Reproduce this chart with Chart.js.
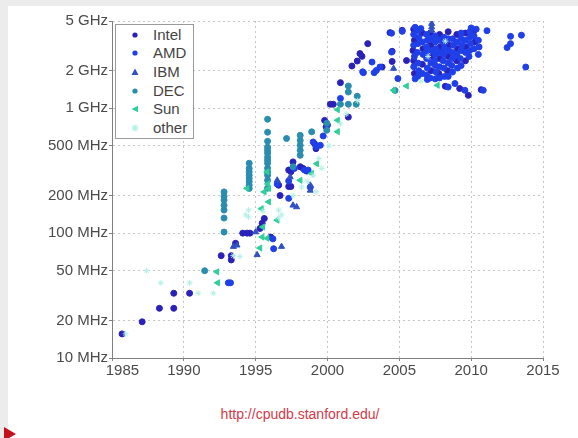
<!DOCTYPE html>
<html>
<head>
<meta charset="utf-8">
<script src="https://cdn.jsdelivr.net/npm/chart.js@4.4.0/dist/chart.umd.min.js"></script>
<style>
  html, body { margin: 0; padding: 0; }
  body { width: 578px; height: 438px; background: #ececec; position: relative; overflow: hidden;
         font-family: "Liberation Sans", Arial, sans-serif; }
  #panel { position: absolute; left: 8px; top: 6px; right: 0; bottom: 0; background: #fff; }
  #chart { position: absolute; left: 0; top: 0; }
  #legend { position: absolute; left: 115px; top: 24px; width: 77px; height: 113px;
            border: 1px solid #9a9a9a; background: #fff; }
  #legend .item { position: absolute; left: 0; height: 18px; line-height: 18px; font-size: 15px; color: #444; }
  #legend svg { position: absolute; left: 14px; top: 4px; }
  #legend span { position: absolute; left: 37px; white-space: nowrap; }
  #url { position: absolute; left: 0; top: 406px; width: 600px; text-align: center;
         font-size: 14px; color: #d23a48; }
  #arrow { position: absolute; left: 4px; top: 427px; width: 0; height: 0;
           border-top: 7px solid transparent; border-bottom: 7px solid transparent;
           border-left: 12px solid #c4121c; }
</style>
</head>
<body>
<div id="panel"></div>
<canvas id="chart" width="578" height="395"></canvas>
<div id="legend">
  <div class="item" style="top:1px"><svg width="10" height="10"><circle cx="5" cy="5" r="2.6" fill="#2a22b8"/></svg><span>Intel</span></div>
  <div class="item" style="top:19px"><svg width="10" height="10"><circle cx="5" cy="5" r="2.6" fill="#1f3fe8"/></svg><span>AMD</span></div>
  <div class="item" style="top:38px"><svg width="10" height="10"><polygon points="5,1.5 8.5,8 1.5,8" fill="#3050c4"/></svg><span>IBM</span></div>
  <div class="item" style="top:57px"><svg width="10" height="10"><circle cx="5" cy="5" r="2.6" fill="#2a8db0"/></svg><span>DEC</span></div>
  <div class="item" style="top:75px"><svg width="10" height="10"><polygon points="1.5,5 8,1.8 8,8.2" fill="#2fcf9c"/></svg><span>Sun</span></div>
  <div class="item" style="top:94px"><svg width="10" height="10"><path d="M5 1.5V8.5M1.5 5H8.5M2.5 2.5L7.5 7.5M7.5 2.5L2.5 7.5" stroke="#b4f0e6" stroke-width="1.2"/></svg><span>other</span></div>
</div>
<div id="url">http://cpudb.stanford.edu/</div>
<div id="arrow"></div>

<script>
// Dados: [ano, clock em MHz]
const xTicks = [1985, 1990, 1995, 2000, 2005, 2010, 2015];
const yTicks = [10, 20, 50, 100, 200, 500, 1000, 2000, 5000];
const yTickLabels = ['10 MHz', '20 MHz', '50 MHz', '100 MHz', '200 MHz', '500 MHz', '1 GHz', '2 GHz', '5 GHz'];

const intel = [
  [1985.7, 15.6], [1987.1, 19.5], [1988.3, 25], [1989.3, 25], [1989.3, 33], [1990.4, 33],
  [1992.6, 66], [1993.3, 66], [1993.3, 61], [1993.6, 83],
  [1994.1, 100], [1994.4, 100], [1994.6, 100],
  [1995.3, 109], [1995.45, 120], [1995.6, 131], [1996.05, 93],
  [1996.6, 242], [1996.7, 200], [1997.3, 236], [1997.45, 236], [1997.3, 320], [1997.45, 310], [1997.6, 372],
  [1998.1, 340], [1998.3, 330], [1998.55, 314],
  [1999.1, 520], [1999.2, 475], [1999.8, 800], [1999.9, 710],
  [2000.2, 1077], [2000.4, 1077], [2000.9, 1604], [2001.45, 850],
  [2001.7, 2180], [2002.07, 2390], [2002.26, 2740], [2002.4, 2606], [2002.8, 3294],
  [2003.8, 2140], [2004.35, 4035], [2004.5, 2858], [2004.5, 2370], [2005.2, 4207], [2005.5, 2410],
  [2006.0, 4300], [2006.05, 3500], [2005.95, 2900], [2006.0, 2400], [2006.05, 1900],
  [2006.6, 4000], [2006.65, 3000], [2006.6, 2250],
  [2007.15, 4000], [2007.2, 3200], [2007.25, 2600], [2007.2, 2000],
  [2007.8, 3900], [2007.85, 3100], [2007.8, 2500], [2007.75, 1900],
  [2008.4, 4100], [2008.45, 3200], [2008.4, 2600], [2008.35, 2000],
  [2009.0, 3900], [2009.05, 3000], [2009.0, 2400],
  [2009.6, 4000], [2009.65, 3100], [2009.6, 2400],
  [2010.2, 4200], [2010.25, 3400],
  [2008.2, 1500], [2009.2, 1439], [2009.8, 1270], [2010.7, 1410]
];

const amd = [
  [1993.1, 40], [1993.25, 40],
  [1996.2, 90], [1996.25, 75],
  [1996.5, 247], [1997.3, 190], [1997.3, 262], [1997.7, 330], [1998.4, 320], [1998.65, 320], [1998.8, 233],
  [1999.0, 537], [1999.2, 494], [1999.5, 505], [1999.7, 600], [2000.0, 733],
  [2000.9, 1200], [2002.45, 1960], [2002.5, 1928], [2003.1, 2345], [2003.25, 1928], [2003.4, 2010],
  [2003.65, 2140], [2004.9, 1729], [2004.46, 3990], [2004.46, 2820], [2005.2, 4130],
  [2006.1, 4450], [2006.5, 4350],
  [2006.3, 4200], [2006.35, 3700], [2006.3, 3300], [2006.25, 2800], [2006.3, 2300], [2006.35, 2000], [2006.3, 1800],
  [2006.0, 3900], [2006.0, 3200], [2006.05, 2600], [2006.0, 2150], [2006.1, 1720],
  [2006.6, 3400], [2006.65, 2700], [2006.6, 1900],
  [2006.9, 3900], [2006.95, 3500], [2006.9, 3100], [2006.85, 2800], [2006.9, 2500], [2006.95, 2100], [2006.9, 1850], [2006.95, 1700],
  [2007.2, 3600], [2007.25, 2900], [2007.2, 2300], [2007.15, 1750],
  [2007.5, 3800], [2007.5, 3400], [2007.55, 3000], [2007.5, 2700], [2007.45, 2400], [2007.5, 2200], [2007.55, 1950], [2007.5, 1720],
  [2007.8, 3500], [2007.85, 2800], [2007.8, 2150], [2007.8, 1750],
  [2008.1, 3700], [2008.1, 3300], [2008.15, 3000], [2008.1, 2700], [2008.05, 2400], [2008.1, 2100], [2008.15, 1800],
  [2008.4, 3600], [2008.45, 2900], [2008.4, 2300], [2008.4, 1800],
  [2008.7, 3600], [2008.75, 3200], [2008.7, 2800], [2008.7, 2500], [2008.65, 2200], [2008.7, 1950],
  [2009.0, 3400], [2009.0, 2700], [2009.05, 2100],
  [2009.3, 4000], [2009.3, 3600], [2009.35, 3200], [2009.3, 2900], [2009.25, 2500], [2009.3, 2200],
  [2009.6, 3500], [2009.6, 2800],
  [2009.9, 4100], [2009.9, 3700], [2009.95, 3300], [2009.9, 2900], [2009.85, 2600],
  [2010.0, 4400], [2010.35, 4300], [2010.2, 3800], [2010.2, 3000],
  [2010.5, 3500], [2010.55, 3100], [2010.5, 2700],
  [2008.4, 1480], [2008.87, 1578], [2009.56, 1393], [2010.84, 1393],
  [2011.1, 4180], [2012.74, 3767], [2013.5, 3850], [2012.74, 3294], [2012.5, 3062], [2013.8, 2140]
];

const ibm = [
  [1993.45, 78], [1993.7, 80], [1995.0, 102], [1995.1, 67], [1996.5, 265], [1996.8, 78],
  [1997.4, 282], [1997.6, 167], [1997.85, 162], [1998.8, 220], [1998.8, 242],
  [2004.6, 2080], [2007.25, 4760], [2007.25, 4470], [2007.25, 4207]
];

const dec = [
  [1991.45, 50],
  [1992.8, 102], [1992.8, 132], [1992.8, 153], [1992.8, 167], [1992.8, 184], [1992.8, 197], [1992.8, 214],
  [1994.55, 228], [1994.55, 242], [1994.55, 258], [1994.55, 274], [1994.55, 291], [1994.55, 310], [1994.55, 330], [1994.55, 363],
  [1995.83, 229], [1995.83, 265], [1995.83, 291], [1995.83, 308], [1995.83, 331], [1995.83, 363], [1995.83, 384],
  [1995.83, 406], [1995.83, 437], [1995.83, 461], [1995.83, 488], [1995.83, 544], [1995.83, 643], [1995.83, 817],
  [1997.15, 573], [1997.6, 340],
  [1998.1, 420], [1998.1, 461], [1998.1, 505], [1998.1, 553], [1998.1, 607],
  [1998.9, 648], [1999.95, 667], [1999.95, 760],
  [2000.9, 1077], [2001.45, 1077], [2002.0, 1077], [2001.45, 1350], [2001.45, 1508], [2002.07, 1248],
  [2004.7, 1390]
];

const sun = [
  [1992.3, 49], [1992.35, 40], [1994.4, 228],
  [1995.3, 76], [1995.45, 93], [1995.5, 112], [1995.4, 157], [1995.6, 214], [1995.85, 248], [1995.8, 310],
  [1995.9, 178], [1995.9, 228], [1995.8, 91],
  [1996.5, 127], [1998.1, 265], [1998.9, 300], [1999.25, 360],
  [2000.7, 975], [2000.7, 802], [2000.7, 650],
  [2004.6, 1393], [2005.5, 1508], [2007.65, 1528]
];

const other = [
  [1985.95, 15.6], [1987.4, 50], [1988.4, 40], [1990.4, 40], [1991.0, 33], [1992.05, 33],
  [1993.45, 66], [1993.9, 65], [1994.3, 140], [1994.5, 153], [1994.5, 135], [1995.5, 150],
  [1996.6, 153], [1996.6, 133], [1996.8, 140], [1997.6, 200], [1998.2, 234], [1998.6, 260],
  [1999.0, 290], [1999.2, 214], [1999.4, 396], [1999.6, 330], [2000.1, 500], [2000.9, 750],
  [2001.3, 900], [2002.1, 1150], [2006.5, 1650], [2007.0, 2600], [2008.2, 3450]
];

const fonte = { family: '"Liberation Sans", Arial, sans-serif', size: 15 };

function serie(nome, dados, cor, estilo, extra) {
  return Object.assign({
    label: nome,
    data: dados.map(p => ({ x: p[0], y: p[1] })),
    pointStyle: estilo,
    pointRadius: 3,
    pointBorderWidth: 1,
    pointBackgroundColor: cor,
    pointBorderColor: cor,
    backgroundColor: cor,
    borderColor: cor
  }, extra || {});
}

new Chart(document.getElementById('chart'), {
  type: 'scatter',
  data: {
    datasets: [
      serie('other', other, '#b4f0e6', 'star', { pointRadius: 3 }),
      serie('Sun', sun, '#2fcf9c', 'triangle', { pointRotation: -90, pointRadius: 3.5 }),
      serie('DEC', dec, '#2a8db0', 'circle'),
      serie('IBM', ibm, '#3050c4', 'triangle', { pointRadius: 3.5 }),
      serie('AMD', amd, '#1f3fe8', 'circle'),
      serie('Intel', intel, '#2a22b8', 'circle')
    ]
  },
  options: {
    responsive: false,
    animation: false,
    devicePixelRatio: 1,
    layout: { padding: { top: 21, right: 35, left: 0, bottom: 0 } },
    plugins: { legend: { display: false }, tooltip: { enabled: false } },
    scales: {
      x: {
        type: 'linear',
        min: 1985,
        max: 2015,
        afterBuildTicks: axis => { axis.ticks = xTicks.map(v => ({ value: v })); },
        afterFit: axis => { axis.height = 37; },
        ticks: {
          autoSkip: false,
          maxRotation: 0,
          padding: 1,
          color: '#4a4a4a',
          font: fonte,
          callback: v => (v === 1985 ? '     1985' : String(v))
        },
        grid: { color: '#c6c6c6', tickColor: '#808080', tickLength: 3, tickBorderDash: [] },
        border: { display: true, color: '#808080', dash: [2, 3] }
      },
      y: {
        type: 'logarithmic',
        min: 10,
        max: 5000,
        afterBuildTicks: axis => { axis.ticks = yTicks.map(v => ({ value: v })); },
        afterFit: axis => { axis.width = 112; },
        ticks: {
          autoSkip: false,
          padding: 1,
          color: '#4a4a4a',
          font: fonte,
          callback: (v, i) => yTickLabels[i]
        },
        grid: { color: '#c6c6c6', tickColor: '#808080', tickLength: 3, tickBorderDash: [] },
        border: { display: true, color: '#808080', dash: [2, 3] }
      }
    }
  }
});
</script>
</body>
</html>
